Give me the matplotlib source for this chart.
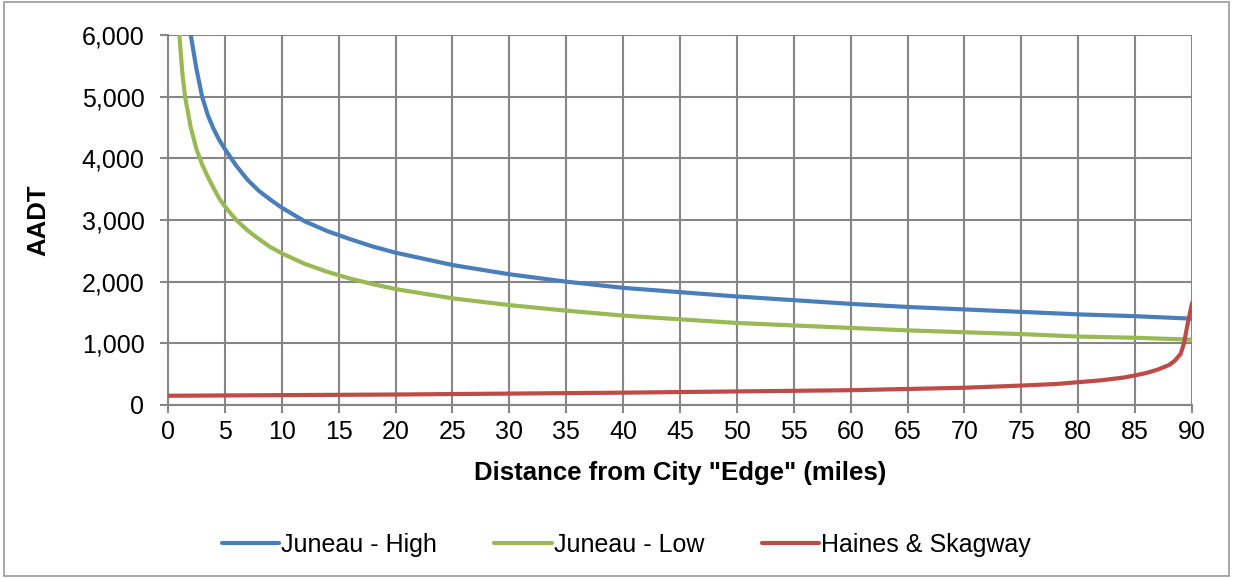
import numpy as np
import matplotlib.pyplot as plt
from matplotlib.patches import Rectangle

plt.rcParams['font.family'] = ['Liberation Sans', 'DejaVu Sans']

# --- Values ---
high_x = [2, 2.5, 3, 3.5, 4, 4.5, 5, 6, 7, 8, 9, 10, 12, 14, 16, 18, 20, 25, 30, 35, 40, 45,
          50, 55, 60, 65, 70, 75, 80, 85, 90]
high_y = [6000, 5450, 5000, 4700, 4480, 4300, 4150, 3880, 3650, 3470, 3330, 3200, 2980, 2820,
          2690, 2570, 2470, 2270, 2120, 2000, 1900, 1830, 1760, 1700, 1640, 1590, 1550, 1510,
          1470, 1440, 1400]

low_x = [1.0, 1.25, 1.5, 2, 2.5, 3, 3.5, 4, 4.5, 5, 6, 7, 8, 9, 10, 12, 14, 16, 18, 20, 25, 30,
         35, 40, 45, 50, 55, 60, 65, 70, 75, 80, 85, 90]
low_y = [6000, 5400, 5000, 4500, 4150, 3900, 3700, 3520, 3350, 3220, 3000, 2830, 2690, 2560,
         2460, 2290, 2160, 2050, 1960, 1880, 1730, 1620, 1530, 1450, 1390, 1330, 1290, 1250,
         1210, 1180, 1150, 1110, 1090, 1060]

hs_x = [0, 10, 20, 30, 40, 50, 55, 60, 65, 70, 75, 78, 80, 82, 84, 85, 86, 87, 88, 88.5, 89,
        89.3, 89.6, 90]
hs_y = [150, 160, 170, 185, 200, 220, 230, 240, 260, 280, 315, 340, 370, 400, 445, 480, 520,
        575, 650, 720, 830, 1000, 1300, 1650]

series = [
    (high_x, high_y, "#4a7ebb", "Juneau - High"),
    (low_x, low_y, "#98b954", "Juneau - Low"),
    (hs_x, hs_y, "#be4b48", "Haines & Skagway"),
]

fig = plt.figure(figsize=(12.33, 5.78), dpi=100)
ax = fig.add_axes([168 / 1233, 1 - 405 / 578, (1192 - 168) / 1233, (405 - 35) / 578])

for xs, ys, col, lab in series:
    ax.plot(xs, ys, color=col, lw=3, label=lab, solid_capstyle='round',
            solid_joinstyle='round', zorder=3)

ax.set_xlim(0, 90)
ax.set_ylim(0, 6000)
ax.set_xticks(np.arange(0, 91, 5))
ax.set_yticks(np.arange(0, 6001, 1000))
ax.set_yticklabels([f"{v:,}" for v in range(0, 6001, 1000)])
ax.grid(True, color="#868686", lw=1.5, zorder=0)
ax.set_axisbelow(True)
for s in ["top", "right"]:
    ax.spines[s].set_visible(False)
for s in ["left", "bottom"]:
    ax.spines[s].set_color("#868686")
    ax.spines[s].set_linewidth(1.5)
ax.tick_params(axis="both", colors="#868686", width=1.5, length=6, labelsize=18,
               labelcolor="black")
ax.tick_params(axis="x", pad=5)
ax.tick_params(axis="y", pad=11)

ax.set_xlabel('Distance from City "Edge" (miles)', fontsize=18.5, fontweight="bold")
ax.set_ylabel("AADT", fontsize=18.5, fontweight="bold")
ax.xaxis.set_label_coords(0.5, (405 - 473) / 370)
ax.xaxis.label.set_va("center")
ax.yaxis.set_label_coords((38 - 168) / 1024, 0.5)
ax.yaxis.label.set_va("center")

fig.legend(loc="center", bbox_to_anchor=(0.508, 1 - 545 / 578), ncol=3, frameon=False,
           fontsize=18, handlelength=2.3, columnspacing=2.3, handletextpad=0.08)

# outer chart border
fig.patches.append(Rectangle((0.003, 0.003), 0.994, 0.994, transform=fig.transFigure,
                             fill=False, edgecolor="#9a9a9a", lw=1.2))

fig.savefig("out.png", dpi=100)
